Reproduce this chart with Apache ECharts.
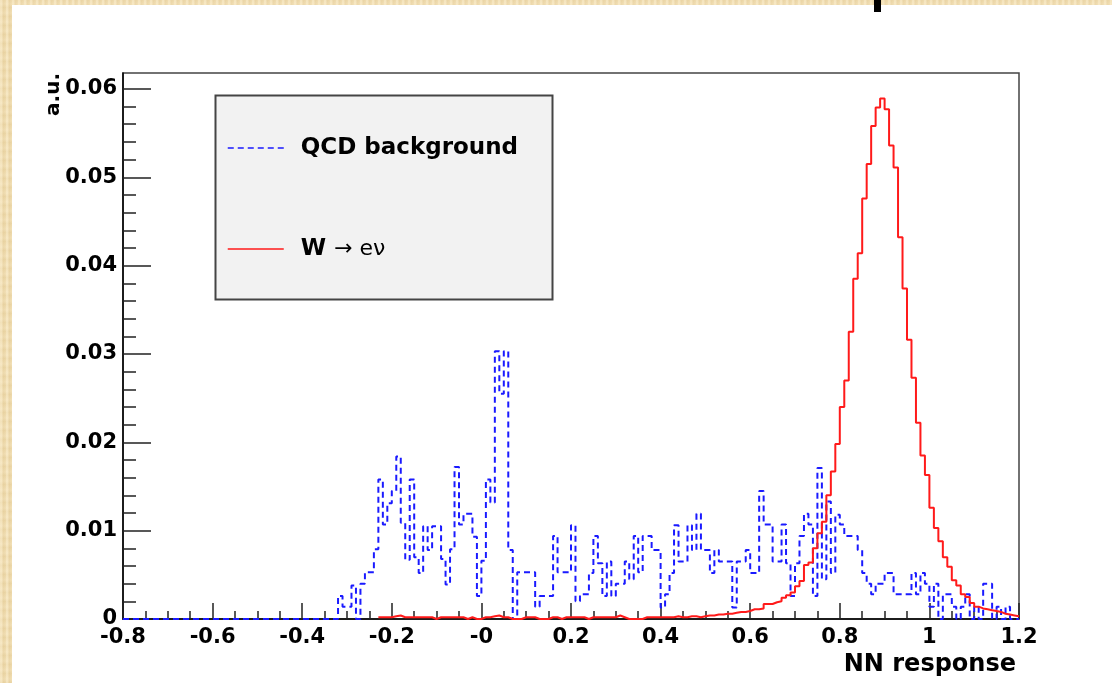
<!DOCTYPE html>
<html>
<head>
<meta charset="utf-8">
<script src="https://cdn.jsdelivr.net/npm/echarts@6/dist/echarts.min.js"></script>
<style>
  html, body { margin:0; padding:0; }
  body {
    width:1112px; height:683px; overflow:hidden;
    background-color:#eedbae;
    background-image:
      repeating-linear-gradient(90deg, rgba(255,245,220,0.35) 0px, rgba(255,245,220,0.35) 2px, rgba(210,180,120,0.18) 3px, rgba(255,245,220,0.0) 6px),
      repeating-linear-gradient(0deg, rgba(220,190,130,0.20) 0px, rgba(255,240,210,0.25) 4px, rgba(230,200,140,0.15) 9px);
  }
  #chart { position:absolute; left:0; top:0; width:1112px; height:683px; }
</style>
</head>
<body>
<div id="chart"></div>
<script>
// ---- Histogram binning ----
const BIN_MIN = -0.8;
const BIN_WIDTH = 0.01;
const X_MAX = 1.2;
const Y_MAX = 0.0618;

// ---- Tick labels ----
const X_TICK_LABELS = ['-0.8','-0.6','-0.4','-0.2','-0','0.2','0.4','0.6','0.8','1','1.2'];
const Y_MAJOR = [0, 0.01, 0.02, 0.03, 0.04, 0.05, 0.06];
const Y_TICK_LABELS = ['0','0.01','0.02','0.03','0.04','0.05','0.06'];

// ---- Series names ----
const SERIES_NAMES = ['QCD background', 'W \u2192 e\u03bd'];

// ---- QCD background (blue dashed), 200 bins from -0.8 to 1.2 ----
const qcdValues = [
  0,0,0,0,0,0,0,0,0,0, 0,0,0,0,0,0,0,0,0,0,
  0,0,0,0,0,0,0,0,0,0, 0,0,0,0,0,0,0,0,0,0,
  0,0,0,0,0,0,0,0,
  0.0026,0.0014,0.0014,0.0038,0.0000,0.0040,0.0053,0.0053,0.0079,0.0158,
  0.0107,0.0131,0.0145,0.0184,0.0109,0.0067,0.0158,0.0070,0.0052,0.0105,
  0.0078,0.0105,0.0105,0.0068,0.0039,0.0079,0.0172,0.0107,0.0119,0.0119,
  0.0093,0.0026,0.0066,0.0158,0.0132,0.0303,0.0255,0.0303,0.0078,0.0000,
  0.0053,0.0053,0.0053,0.0053,0.0014,0.0026,0.0026,0.0026,0.0094,0.0053,
  0.0053,0.0053,0.0106,0.0020,0.0028,0.0028,0.0052,0.0094,0.0063,0.0026,
  0.0065,0.0026,0.0040,0.0040,0.0065,0.0045,0.0094,0.0053,0.0094,0.0094,
  0.0078,0.0078,0.0013,0.0028,0.0052,0.0106,0.0065,0.0065,0.0106,0.0078,
  0.0119,0.0078,0.0078,0.0052,0.0078,0.0065,0.0065,0.0065,0.0013,0.0065,
  0.0065,0.0078,0.0052,0.0052,0.0145,0.0107,0.0107,0.0065,0.0065,0.0107,
  0.0063,0.0026,0.0063,0.0094,0.0119,0.0107,0.0026,0.0171,0.0045,0.0133,
  0.0052,0.0118,0.0107,0.0094,0.0094,0.0094,0.0078,0.0052,0.0040,0.0028,
  0.0040,0.0040,0.0052,0.0052,0.0028,0.0028,0.0028,0.0028,0.0052,0.0028,
  0.0052,0.0040,0.0014,0.0040,0.0000,0.0028,0.0028,0.0014,0.0000,0.0014,
  0.0028,0.0000,0.0014,0.0000,0.0040,0.0040,0.0000,0.0014,0.0000,0.0014,
  0.0000,0.0000
];

// ---- W -> e nu signal (red solid), 200 bins from -0.8 to 1.2 (null = not drawn) ----
const wenuValues = [
  null,null,null,null,null,null,null,null,null,null,
  null,null,null,null,null,null,null,null,null,null,
  null,null,null,null,null,null,null,null,null,null,
  null,null,null,null,null,null,null,null,null,null,
  null,null,null,null,null,null,null,null,null,null,
  null,null,null,null,null,null,null,
  0.0002,0.0002,0.0002,0.0003,0.0004,0.0002,0.0002,0.0002,0.0002,0.0002,
  0.0002,0.0002,0.0000,0.0002,0.0002,0.0002,0.0002,0.0002,0.0002,0.0000,
  0.0002,0.0000,0.0000,0.0002,0.0002,0.0003,0.0004,0.0002,0.0002,0.0000,
  0.0000,0.0000,0.0002,0.0002,0.0002,0.0000,0.0000,0.0000,0.0002,0.0002,
  0.0000,0.0002,0.0002,0.0002,0.0002,0.0002,0.0000,0.0002,0.0002,0.0002,
  0.0002,0.0002,0.0002,0.0004,0.0002,0.0000,0.0000,0.0000,0.0000,0.0002,
  0.0002,0.0002,0.0002,0.0002,0.0002,0.0002,0.0003,0.0002,0.0002,0.0003,
  0.0003,0.0002,0.0003,0.0004,0.0004,0.0005,0.0005,0.0006,0.0006,0.0007,
  0.0008,0.0008,0.0009,0.0011,0.0011,0.0012,0.0017,0.0017,0.0019,0.0020,
  0.0024,0.0027,0.0030,0.0037,0.0043,0.0061,0.0064,0.0080,0.0097,0.0110,
  0.0140,0.0167,0.0198,0.0240,0.0270,0.0325,0.0385,0.0414,0.0476,0.0515,
  0.0558,0.0579,0.0589,0.0577,0.0536,0.0511,0.0432,0.0374,0.0316,0.0273,
  0.0222,0.0185,0.0163,0.0126,0.0103,0.0088,0.0070,0.0059,0.0044,0.0038,
  0.0028,0.0025,0.0018,0.0014,0.0012,0.0011,0.0010,0.0009,0.0008,0.0006,
  0.0005,0.0004,0.0003
];

// Build step-histogram points (bin left edge, content) + closing edge
function histPoints(vals) {
  const pts = [];
  let last = null;
  vals.forEach((v, i) => {
    if (v === null) return;
    pts.push([+(BIN_MIN + i * BIN_WIDTH).toFixed(2), v]);
    last = v;
  });
  if (last !== null) pts.push([X_MAX, last]);
  return pts;
}

// minor y ticks: 5 subdivisions per major interval
const Y_MINOR = [];
for (let i = 0; i < Y_MAJOR.length - 1; i++) {
  const step = (Y_MAJOR[i + 1] - Y_MAJOR[i]) / 5;
  for (let j = 1; j < 5; j++) Y_MINOR.push(+(Y_MAJOR[i] + j * step).toFixed(4));
}

const FONT = 'DejaVu Sans';
const chart = echarts.init(document.getElementById('chart'), null, { renderer: 'canvas' });

const tickStyle = { color: '#222', width: 1.5 };

chart.setOption({
  animation: false,
  backgroundColor: 'transparent',
  graphic: [
    { type: 'rect', z: -10, silent: true, shape: { x: 12, y: 5, width: 1100, height: 678 }, style: { fill: '#ffffff' } },
    { type: 'rect', z: 10, silent: true, shape: { x: 874, y: 0, width: 7, height: 12 }, style: { fill: '#000000' } },
    { type: 'rect', z: 3, silent: true, shape: { x: 215.5, y: 95.5, width: 337, height: 204 }, style: { fill: '#f2f2f2', stroke: '#444444', lineWidth: 2 } }
  ],
  grid: {
    left: 123, right: 93, top: 73, bottom: 64,
    show: true, backgroundColor: '#ffffff', borderColor: '#444444', borderWidth: 1.5
  },
  legend: {
    show: true, orient: 'vertical', left: 222, top: 130,
    itemWidth: 56, itemHeight: 14, itemGap: 75, selectedMode: false, z: 5,
    data: SERIES_NAMES,
    lineStyle: { width: 1.5 },
    itemStyle: { color: 'rgba(0,0,0,0)', borderColor: 'rgba(0,0,0,0)', borderWidth: 0, opacity: 0 },
    formatter: function (name) {
      if (name === SERIES_NAMES[1]) return '{w|W} {r|\u2192 e\u03bd}';
      return name;
    },
    textStyle: {
      fontFamily: FONT, fontWeight: 'bold', fontSize: 23, color: '#000', lineHeight: 26,
      padding: [0, 0, 0, 12],
      rich: {
        w: { fontFamily: FONT, fontWeight: 'bold', fontSize: 23, color: '#000', lineHeight: 26 },
        r: { fontFamily: FONT, fontWeight: 'normal', fontSize: 22, color: '#000', lineHeight: 26 }
      }
    }
  },
  xAxis: {
    type: 'value', min: BIN_MIN, max: X_MAX, interval: 0.2,
    axisLine: { show: true, onZero: false, lineStyle: { color: '#000', width: 1.5 } },
    axisTick: { show: true, inside: true, length: 16, lineStyle: tickStyle },
    minorTick: { show: true, splitNumber: 4, length: 8, lineStyle: tickStyle },
    splitLine: { show: false },
    minorSplitLine: { show: false },
    axisLabel: {
      formatter: function (v) { return X_TICK_LABELS[Math.round((v - BIN_MIN) / 0.2)]; },
      fontFamily: FONT, fontWeight: 'bold', fontSize: 21, color: '#000', margin: 8
    },
    name: 'NN response', nameLocation: 'end', nameGap: 0, nameMoveOverlap: false,
    nameTextStyle: {
      fontFamily: FONT, fontWeight: 'bold', fontSize: 24, color: '#000',
      align: 'right', verticalAlign: 'top', padding: [34, 3, 0, 0]
    }
  },
  yAxis: [
    {
      type: 'value', min: 0, max: Y_MAX, position: 'left', offset: 0,
      axisLine: { show: true, onZero: false, lineStyle: { color: '#000', width: 1.5 } },
      axisTick: { show: true, inside: true, length: 28, customValues: Y_MAJOR, lineStyle: tickStyle },
      axisLabel: {
        customValues: Y_MAJOR,
        formatter: function (v) { const i = Y_MAJOR.findIndex(m => Math.abs(m - v) < 1e-9); return i >= 0 ? Y_TICK_LABELS[i] : ''; },
        fontFamily: FONT, fontWeight: 'bold', fontSize: 21, color: '#000', margin: 6
      },
      splitLine: { show: false },
      name: 'a.u.', nameLocation: 'end', nameGap: 0, nameRotate: 90, nameMoveOverlap: false,
      nameTextStyle: {
        fontFamily: FONT, fontWeight: 'bold', fontSize: 20, color: '#000',
        align: 'right', verticalAlign: 'bottom', padding: [0, 0, 59, 0]
      }
    },
    {
      type: 'value', min: 0, max: Y_MAX, position: 'left', offset: 0,
      axisLine: { show: false, onZero: false },
      axisTick: { show: true, inside: true, length: 13, customValues: Y_MINOR, lineStyle: tickStyle },
      axisLabel: { show: false },
      splitLine: { show: false }
    }
  ],
  series: [
    {
      name: SERIES_NAMES[0], type: 'line', step: 'end', yAxisIndex: 0,
      data: histPoints(qcdValues), symbol: 'none', clip: false, silent: true, z: 2,
      lineStyle: { color: '#1a1aff', width: 2, type: [6, 4] },
      itemStyle: { color: '#1a1aff' }
    },
    {
      name: SERIES_NAMES[1], type: 'line', step: 'end', yAxisIndex: 0,
      data: histPoints(wenuValues), symbol: 'none', clip: false, silent: true, z: 3,
      lineStyle: { color: '#ff1a1a', width: 2 },
      itemStyle: { color: '#ff1a1a' }
    }
  ]
});
</script>
</body>
</html>
